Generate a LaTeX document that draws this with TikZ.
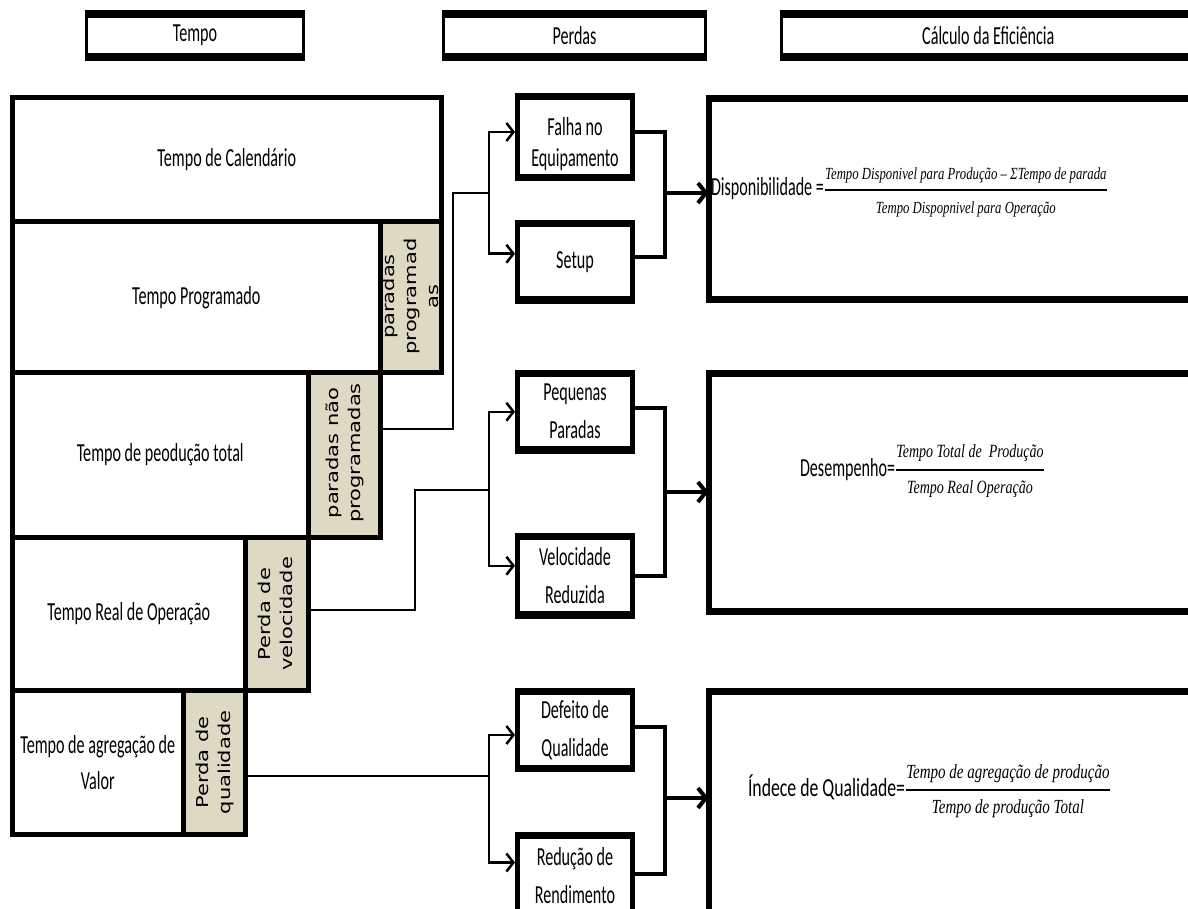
\documentclass[tikz,border=0pt]{standalone}
\usepackage{fontspec}
\usepackage{graphicx}
\usetikzlibrary{arrows.meta,calc}

\newfontfamily\mainf[FakeStretch=0.62]{Carlito}
\newfontfamily\tanf{DejaVu Sans}
\newfontfamily\fmlf[FakeStretch=0.75]{Liberation Serif}
\definecolor{tanfill}{HTML}{DDD9C3}

% italic text of a fraction, at a given size
\newcommand\fmltxt[2]{\mbox{\fmlf\itshape\fontsize{#1}{#1}\selectfont #2}}
% vertical label of a loss box
\newcommand\losslabel[1]{\tanf\fontsize{21}{28}\selectfont
  \scalebox{1}[0.78]{\begin{tabular}{@{}c@{}}#1\end{tabular}}}

\tikzset{
  every node/.style={outer sep=0pt, inner sep=0pt},
  txt/.style={font=\mainf\fontsize{26}{38}\selectfont, align=center},
  hdr/.style={draw, line width=3pt, fill=white, txt, minimum height=43pt},
  timebox/.style={draw, line width=5pt, fill=white, txt},
  lossbox/.style={draw, line width=5pt, fill=tanfill},
  midbox/.style={draw, line width=5pt, fill=white, txt, minimum width=115pt},
  effbox/.style={draw, line width=6pt, fill=white},
  fml/.style={font=\mainf\fontsize{26}{31}\selectfont, anchor=west},
  con/.style={line width=2.5pt},
  arr/.style={con, -{Straight Barb[length=7pt,width=18pt]}, shorten >=2.5pt},
  conT/.style={line width=4pt},
  arrT/.style={conT, -{Straight Barb[length=8pt,width=20pt]}},
}

\begin{document}
\begin{tikzpicture}[x=1pt,y=-1pt]
\useasboundingbox (0,0) rectangle (1188,909);
\clip (0,0) rectangle (1188,909);
\fill[white] (0,0) rectangle (1188,909);

% column headers
\node[hdr, minimum width=217pt] (hTempo) at (195,35.5) {Tempo};
\node[hdr, minimum width=262pt] (hPerdas) at (574.5,35.5) {Perdas};
\node[hdr, minimum width=413.5pt] (hCalc) at (988.25,35.5) {Cálculo da Eficiência};
\foreach \n in {hTempo,hPerdas,hCalc}
  \draw[line width=8pt] ([xshift=-1.5pt]\n.north west) -- ([xshift=1.5pt]\n.north east)
                        ([xshift=-1.5pt]\n.south west) -- ([xshift=1.5pt]\n.south east);

% time staircase
\node[timebox, minimum width=428.5pt, minimum height=124.5pt] (cal) at (226.75,159.75) {Tempo de Calendário};
\node[timebox, minimum width=367.5pt, minimum height=150.5pt] (prog) at (196.25,297.25) {Tempo Programado};
\node[lossbox, minimum width=61pt, minimum height=150.5pt] (tanPP) at (410.5,297.25) {};
\node[timebox, minimum width=295.5pt, minimum height=165pt] (tot) at (160.25,455) {Tempo de peodução total};
\node[lossbox, minimum width=72pt, minimum height=165pt] (tanNP) at (344,455) {};
\node[timebox, minimum width=232.5pt, minimum height=153pt] (real) at (128.75,614) {Tempo Real de Operação};
\node[lossbox, minimum width=63pt, minimum height=153pt] (tanPV) at (276.5,614) {};
\node[timebox, minimum width=170.5pt, minimum height=144pt, font=\mainf\fontsize{26}{36}\selectfont] (agr) at (97.75,762.5) {Tempo de agregação de\\Valor};
\node[lossbox, minimum width=62pt, minimum height=144pt] (tanPQ) at (214,762.5) {};

\node[rotate=90] (lPP) at (412,296.5) {\losslabel{paradas\\programad\\as}};
\node[rotate=90] (lNP) at (345,453) {\losslabel{paradas não\\programadas}};
\node[rotate=90] (lPV) at (277,614) {\losslabel{Perda de\\velocidade}};
\node[rotate=90] (lPQ) at (215,762.5) {\losslabel{Perda de\\qualidade}};

% losses
\node[midbox, minimum height=81pt] (falha) at (575,137)
  {\raisebox{-8pt}[\height][\depth]{\fontsize{26}{31}\selectfont\begin{tabular}{@{}c@{}}Falha no\\Equipamento\end{tabular}}};
\node[midbox, minimum height=76.5pt] (setup) at (575,261.75) {Setup};
\node[midbox, minimum height=76.5pt] (peq) at (575,411.75) {Pequenas\\Paradas};
\node[midbox, minimum height=78.5pt] (vel) at (575,575.75) {Velocidade\\Reduzida};
\node[midbox, minimum height=77pt] (def) at (575,730) {Defeito de\\Qualidade};
\node[midbox, minimum height=80pt] (red) at (575,875.5) {Redução de\\Rendimento};
\foreach \n in {falha,setup,peq,vel,def,red}
  \draw[line width=7.5pt] ([xshift=-2.5pt]\n.north west) -- ([xshift=2.5pt]\n.north east)
                          ([xshift=-2.5pt]\n.south west) -- ([xshift=2.5pt]\n.south east);

% efficiency boxes
\node[effbox, minimum width=491.5pt, minimum height=201pt] (disp) at (954.25,199) {};
\node[effbox, minimum width=491.5pt, minimum height=238pt] (desemp) at (954.25,492.5) {};
\node[effbox, minimum width=491.5pt, minimum height=228.5pt] (indice) at (954.25,805.75) {};
\foreach \n in {disp,desemp,indice}
  \draw[line width=7pt] ([xshift=-3pt]\n.north west) -- ([xshift=3pt]\n.north east)
                        ([xshift=-3pt]\n.south west) -- ([xshift=3pt]\n.south east);

% formulas
\node[fml] (fDisp) at (711,192) {Disponibilidade =$\displaystyle{\fmltxt{17}{Tempo Disponivel para Produção – ΣTempo de parada}\above 2pt\fmltxt{17}{Tempo Dispopnivel para Operação}}$};
\node[fml] (fDesemp) at (800,471) {Desempenho=$\displaystyle{\fmltxt{18.7}{Tempo Total de\ \ Produção}\above 2.5pt\fmltxt{18.7}{Tempo Real Operação}}$};
\node[fml] (fIndice) at (748,791) {\scalebox{1.1}[1]{Índece de Qualidade=}$\displaystyle{\fmltxt{20}{Tempo de agregação de produção}\above 2pt\fmltxt{20}{Tempo de produção Total}}$};

% availability losses
\coordinate (j1) at (453,429);
\coordinate (b1) at (489,193);
\coordinate (m1) at (665,193);
\draw[con] (tanNP.east |- j1) -- (j1) |- (b1);
\draw[arr] (b1) |- ([yshift=5pt]falha.west);
\draw[arr] (b1) |- ([yshift=8pt]setup.west);
\draw[conT] ([yshift=5pt]falha.east) -| (m1) |- ([yshift=5pt]setup.east);
\draw[arrT] (m1) -- (m1 -| disp.west);

% performance losses
\coordinate (j2) at (415,610);
\coordinate (b2) at (489,490);
\coordinate (m2) at (665,492);
\draw[con] (tanPV.east |- j2) -- (j2) |- (b2);
\draw[arr] (b2) |- (peq.west);
\draw[arr] (b2) |- ([yshift=10pt]vel.west);
\draw[conT] ([yshift=4pt]peq.east) -| (m2) |- (vel.east);
\draw[arrT] (m2) -- (m2 -| desemp.west);

% quality losses
\coordinate (b3) at (489,776);
\coordinate (m3) at (665,798);
\draw[con] (tanPQ.east |- b3) -- (b3);
\draw[arr] (b3) |- ([yshift=-5pt]def.west);
\draw[arr] (b3) |- ([yshift=13pt]red.west);
\draw[conT] ([yshift=3pt]def.east) -| (m3) |- ([yshift=2pt]red.east);
\draw[arrT] (m3) -- (m3 -| indice.west);
\end{tikzpicture}
\end{document}
